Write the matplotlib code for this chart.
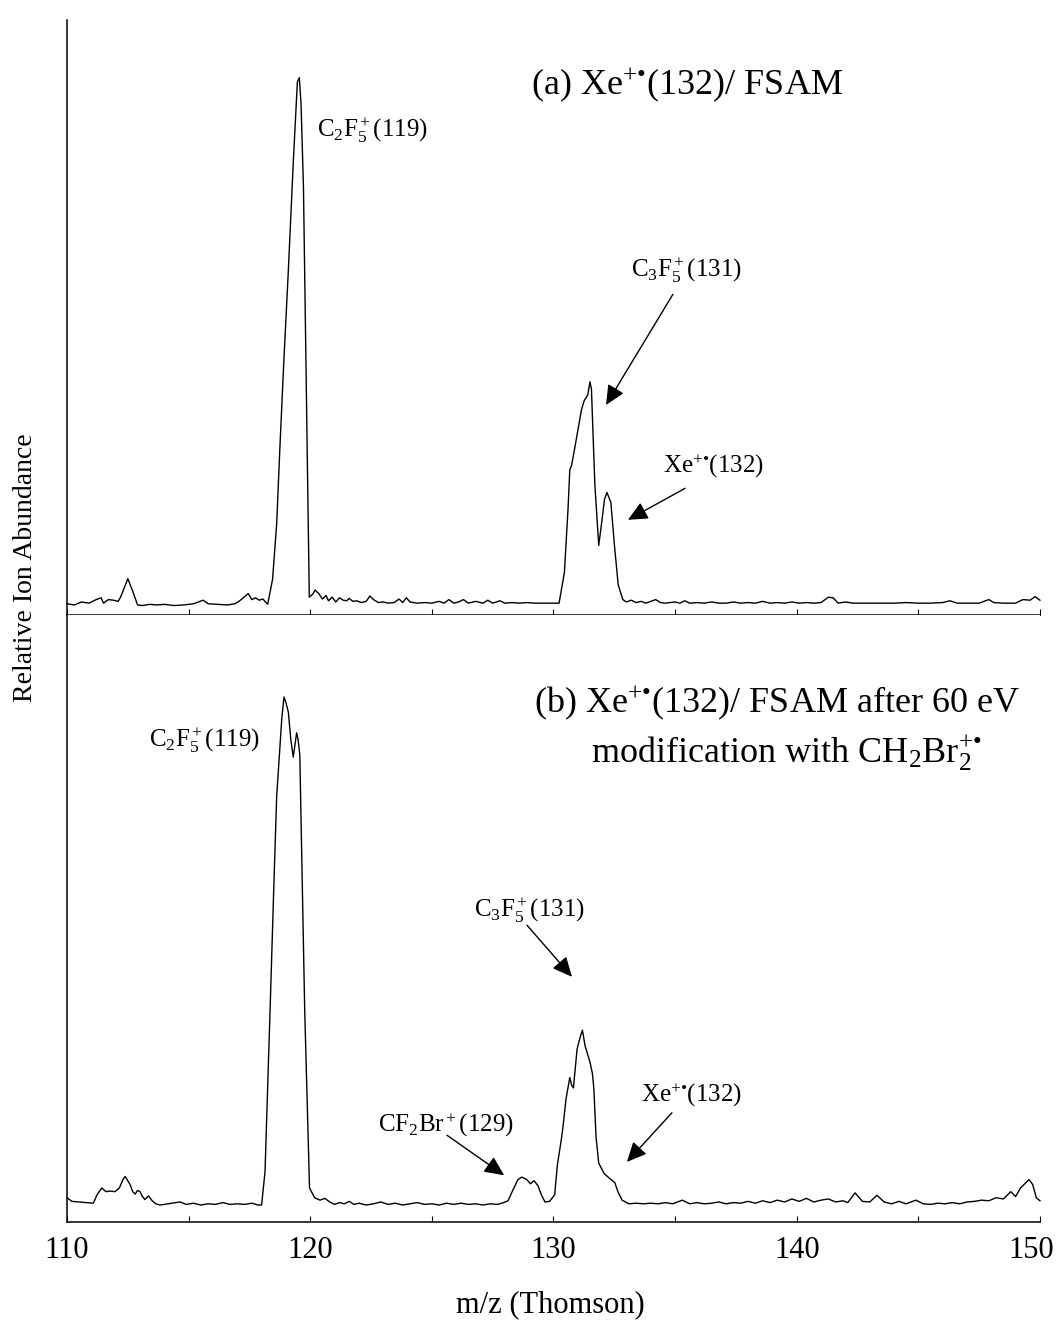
import matplotlib
matplotlib.use("Agg")
import matplotlib.pyplot as plt
from matplotlib.ticker import MultipleLocator
from matplotlib.transforms import ScaledTranslation

plt.rcParams["font.family"] = ["Liberation Serif", "DejaVu Serif"]
plt.rcParams["mathtext.fontset"] = "custom"
plt.rcParams["mathtext.rm"] = "Liberation Serif"
plt.rcParams["mathtext.it"] = "Liberation Serif:italic"
plt.rcParams["mathtext.bf"] = "Liberation Serif:bold"

# (a) Xe+. / FSAM spectrum
top_mz = [110.0, 110.3, 110.6, 110.9, 111.2, 111.4, 111.5, 111.7, 111.9, 112.1, 112.2, 112.5, 112.7, 112.9,
          113.1, 113.4, 113.7, 114.0, 114.4, 114.8, 115.2, 115.6, 115.8, 116.2, 116.6, 116.9, 117.1, 117.3,
          117.45, 117.6, 117.75, 117.9, 118.05, 118.25,
          118.45, 118.62, 118.75, 118.9, 119.1, 119.3, 119.47, 119.55, 119.62, 119.72, 119.85, 119.96,
          120.1, 120.2, 120.35, 120.5, 120.65, 120.75, 120.9, 121.05, 121.2, 121.35, 121.5, 121.6, 121.75,
          121.9, 122.1, 122.3, 122.45, 122.6, 122.8, 123.0, 123.2, 123.45, 123.65, 123.8, 123.95, 124.1,
          124.4, 124.7, 125.0, 125.3, 125.5, 125.7, 125.9, 126.1, 126.3, 126.5, 126.8, 127.1, 127.3, 127.5,
          127.8, 128.0, 128.3, 128.6, 128.9, 129.2, 129.6, 129.9, 130.23,
          130.45, 130.6, 130.67, 130.74, 130.85, 131.0, 131.15, 131.26, 131.41, 131.5, 131.56, 131.7,
          131.86, 131.98, 132.1, 132.2, 132.36, 132.5, 132.66, 132.85,
          133.0, 133.2, 133.4, 133.6, 133.8, 134.0, 134.2, 134.4, 134.6, 134.8, 135.0, 135.2, 135.4, 135.6,
          135.9, 136.2, 136.5, 136.8, 137.1, 137.4, 137.7, 138.0, 138.3, 138.6, 138.9, 139.2, 139.5, 139.8,
          140.1, 140.4, 140.7, 141.0, 141.3, 141.5, 141.7, 142.0, 142.3, 142.6, 143.0, 143.5, 144.0, 144.5,
          145.0, 145.5, 146.0, 146.3, 146.6, 147.0, 147.5, 147.9, 148.1, 148.5, 149.0, 149.3, 149.6, 149.8,
          150.0]
top_int = [1.9, 1.7, 2.2, 2.0, 2.6, 2.9, 2.0, 2.6, 2.5, 2.3, 3.0, 6.1, 4.0, 1.7,
           1.6, 1.8, 1.7, 1.8, 1.6, 1.7, 1.9, 2.5, 1.9, 1.8, 1.7, 1.9, 2.4, 3.1,
           3.6, 2.6, 2.9, 2.5, 2.7, 1.8,
           6.0, 15.4, 28.0, 41.5, 58.0, 75.9, 89.6, 90.3, 86.0, 72.0, 34.7, 3.0,
           3.5, 4.2, 3.6, 2.7, 3.3, 2.4, 3.0, 2.2, 2.9, 2.5, 2.4, 2.8, 2.3,
           2.4, 2.1, 2.3, 3.2, 2.6, 2.1, 2.2, 2.0, 2.1, 2.7, 2.1, 2.9, 2.2,
           2.0, 2.1, 2.0, 2.3, 2.0, 2.6, 2.0, 2.2, 2.6, 2.0, 2.3, 2.0, 2.5, 2.0,
           2.4, 2.0, 2.1, 2.0, 2.1, 2.0, 2.0, 2.0, 2.0,
           7.2, 18.0, 24.4, 25.1, 27.5, 31.0, 34.5, 36.0, 37.0, 39.2, 38.0, 22.0,
           11.7, 15.5, 19.5, 20.6, 18.9, 12.0, 5.1, 2.6,
           2.2, 2.5, 2.1, 2.3, 2.0, 2.3, 2.6, 2.1, 2.0, 2.1, 2.2, 2.0, 2.4, 2.0,
           2.1, 2.0, 2.2, 2.0, 2.0, 2.2, 2.0, 2.1, 2.0, 2.3, 2.0, 2.1, 2.0, 2.2,
           2.0, 2.1, 2.0, 2.1, 3.0, 2.9, 2.0, 2.2, 2.0, 2.0, 2.0, 2.0, 2.0, 2.1,
           2.0, 2.0, 2.1, 2.4, 2.0, 2.0, 2.0, 2.6, 2.1, 2.0, 2.0, 2.6, 2.5, 3.1,
           2.5]

# (b) after 60 eV CH2Br2+. modification
bot_mz = [110.0, 110.2, 110.5, 110.8, 111.08, 111.25, 111.43, 111.6, 111.77, 111.97, 112.15, 112.3, 112.39,
          112.5, 112.59, 112.7, 112.8, 112.9, 113.0, 113.1, 113.2, 113.35, 113.5, 113.65, 113.82, 114.0,
          114.3, 114.65, 114.9, 115.2, 115.5, 115.8, 116.1, 116.4, 116.7, 117.0, 117.3, 117.6, 117.85, 118.0,
          118.14, 118.35, 118.5, 118.62, 118.83, 118.92, 118.99, 119.1, 119.2, 119.3, 119.44, 119.5, 119.57,
          119.65, 119.77, 119.97, 120.18, 120.4, 120.6, 120.8, 121.0, 121.2, 121.4, 121.6, 121.8, 122.0,
          122.3, 122.6, 122.9, 123.2, 123.5, 123.8, 124.1, 124.4, 124.7, 125.0, 125.3, 125.6, 125.9, 126.2,
          126.5, 126.8, 127.1, 127.4, 127.7, 127.95, 128.13, 128.3, 128.54, 128.7, 128.9, 129.05, 129.2,
          129.36, 129.5, 129.65, 129.84, 130.05, 130.16, 130.3, 130.37, 130.52, 130.67, 130.75, 130.82,
          130.97, 131.1, 131.19, 131.3, 131.49, 131.6, 131.66, 131.75, 131.86, 132.08, 132.3, 132.52,
          132.65, 132.82, 133.1, 133.4, 133.7, 134.0, 134.3, 134.6, 134.9, 135.3, 135.6, 135.9, 136.2,
          136.5, 136.8, 137.1, 137.4, 137.7, 138.0, 138.3, 138.6, 138.9, 139.2, 139.5, 139.8, 140.1,
          140.4, 140.7, 141.0, 141.3, 141.6, 141.9, 142.1, 142.4, 142.7, 143.0, 143.3, 143.6, 143.9,
          144.2, 144.5, 144.9, 145.2, 145.5, 145.8, 146.1, 146.4, 146.7, 147.0, 147.3, 147.6, 147.9,
          148.2, 148.5, 148.8, 149.0, 149.2, 149.4, 149.55, 149.7, 149.85, 150.0]
bot_int = [4.0, 3.4, 3.3, 3.2, 3.1, 4.6, 5.6, 5.0, 5.1, 5.0, 5.6, 7.0, 7.5,
           6.8, 6.2, 5.0, 4.6, 5.2, 5.0, 4.2, 3.7, 4.3, 3.5, 3.0, 2.8, 2.9,
           3.1, 3.3, 2.9, 3.1, 2.8, 3.0, 2.9, 3.2, 2.9, 3.0, 2.9, 3.1, 2.8, 2.8,
           8.3, 35.2, 55.0, 70.2, 83.0, 86.5, 85.7, 84.0, 79.5, 76.6, 80.6, 79.5, 77.0,
           60.0, 35.2, 5.6, 4.0, 3.6, 3.9, 3.3, 2.9, 3.2, 3.0, 3.4, 2.9, 3.1,
           2.8, 3.0, 3.3, 2.9, 3.1, 2.8, 3.0, 3.2, 2.9, 3.0, 2.8, 3.1, 2.9, 3.1,
           2.9, 3.0, 2.8, 3.0, 2.9, 3.2, 3.5, 5.0, 7.0, 7.4, 7.0, 6.3, 6.8,
           6.0, 4.5, 3.3, 3.4, 4.5, 9.4, 13.0, 15.0, 20.4, 23.8, 22.5, 22.1,
           28.5, 30.5, 31.6, 29.0, 26.5, 24.5, 22.0, 14.0, 9.7, 8.0, 7.2, 6.5,
           5.0, 3.6, 3.0, 3.1, 3.0, 3.1, 3.0, 3.2, 3.0, 3.6, 3.0, 3.2, 3.0,
           3.1, 3.3, 3.0, 3.2, 3.1, 3.4, 3.1, 3.5, 3.2, 3.6, 3.3, 3.8, 3.4,
           3.9, 3.3, 3.6, 3.8, 3.3, 3.5, 3.2, 4.8, 3.4, 3.3, 4.4, 3.3, 3.0,
           3.4, 3.0, 3.6, 3.0, 2.9, 3.1, 3.0, 3.2, 3.0, 3.3, 3.4, 3.6, 3.5,
           4.0, 3.8, 5.0, 4.2, 5.6, 6.4, 7.0, 6.2, 4.0, 3.5]

xticks = [110, 120, 130, 140, 150]

fig = plt.figure(figsize=(10.59, 13.29), dpi=100)
ax1 = fig.add_axes([0.0633, 0.5372, 0.9187, 0.4478])
ax2 = fig.add_axes([0.0633, 0.0805, 0.9187, 0.4567])

for ax in (ax1, ax2):
    ax.set_xlim(110, 150)
    ax.set_ylim(0, 100)
    ax.spines["top"].set_visible(False)
    ax.spines["right"].set_visible(False)
    ax.spines["left"].set_linewidth(1.1)
    ax.spines["bottom"].set_linewidth(1.1)
    ax.set_yticks([])
    ax.xaxis.set_major_locator(MultipleLocator(10))
    ax.xaxis.set_minor_locator(MultipleLocator(5))
    ax.tick_params(axis="x", which="both", direction="in", length=4, width=0.8)

ax1.tick_params(axis="x", labelbottom=False)
ax2.set_xticks(xticks)
ax2.set_xticklabels([str(t) for t in xticks], fontsize=22)
ax2.tick_params(axis="x", pad=10)
# keep the last label inside the figure
last = ax2.get_xticklabels()[-1]
last.set_transform(last.get_transform() + ScaledTranslation(-6 / 72, 0, fig.dpi_scale_trans))

ax1.plot(top_mz, top_int, color="black", lw=1.0, clip_on=False)
ax2.plot(bot_mz, bot_int, color="black", lw=1.0, clip_on=False)

arr = dict(arrowstyle="-|>,head_length=0.6,head_width=0.28", color="black", lw=1.0,
           shrinkA=0, shrinkB=0, mutation_scale=20)

rad = r"$^{+•}$"
lab = 18
big = 26

# panel (a) labels
ax1.text(135.49, 89.1, "(a) Xe" + rad + "(132)/ FSAM", fontsize=big, ha="center", va="center")
ax1.text(122.54, 81.5, r"C$_2$F$_5^+$(119)", fontsize=lab, ha="center", va="center")
ax1.text(135.45, 58.0, r"C$_3$F$_5^+$(131)", fontsize=lab, ha="center", va="center")
ax1.text(136.6, 25.0, "Xe" + rad + "(132)", fontsize=lab, ha="center", va="center")
ax1.annotate("", xy=(132.16, 35.3), xytext=(134.91, 53.9), arrowprops=arr)
ax1.annotate("", xy=(133.06, 16.0), xytext=(135.41, 21.3), arrowprops=arr)

# panel (b) labels
ax2.text(139.2, 85.5, "(b) Xe" + rad + "(132)/ FSAM after 60 eV", fontsize=big, ha="center", va="center")
ax2.text(139.56, 77.4, r"modification with CH$_2$Br$_2^{+•}$", fontsize=big, ha="center", va="center")
ax2.text(115.67, 79.4, r"C$_2$F$_5^+$(119)", fontsize=lab, ha="center", va="center")
ax2.text(129.03, 51.4, r"C$_3$F$_5^+$(131)", fontsize=lab, ha="center", va="center")
ax2.text(125.58, 16.0, r"CF$_2$Br$^+$(129)", fontsize=lab, ha="center", va="center")
ax2.text(135.69, 20.9, "Xe" + rad + "(132)", fontsize=lab, ha="center", va="center")
ax2.annotate("", xy=(130.76, 40.4), xytext=(128.91, 48.9), arrowprops=arr)
ax2.annotate("", xy=(127.97, 7.7), xytext=(125.62, 14.3), arrowprops=arr)
ax2.annotate("", xy=(133.02, 9.9), xytext=(134.87, 18.0), arrowprops=arr)

fig.text(0.024, 0.573, "Relative Ion Abundance", rotation=90, fontsize=20, ha="center", va="center")
fig.text(0.52, 0.018, "m/z (Thomson)", fontsize=22, ha="center", va="center")

fig.savefig("out.png", dpi=100)
